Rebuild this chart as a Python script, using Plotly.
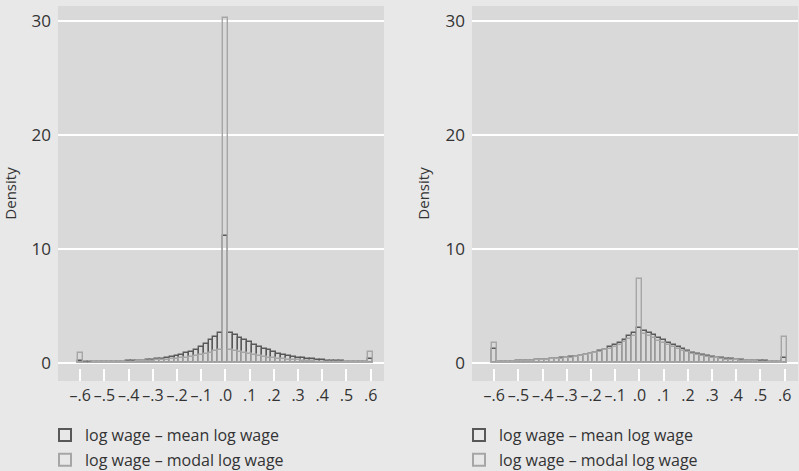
import plotly.graph_objects as go

bins = [round(-0.60 + 0.02 * i, 2) for i in range(61)]

left_mean = [0.15, 0.05, 0.06, 0.06, 0.07, 0.08, 0.09, 0.10, 0.11, 0.12,
             0.14, 0.16, 0.18, 0.20, 0.23, 0.27, 0.31, 0.36, 0.42, 0.50,
             0.60, 0.70, 0.85, 0.98, 1.18, 1.42, 1.70, 2.00, 2.30, 2.60,
             11.1,
             2.62, 2.42, 2.20, 2.00, 1.80, 1.62, 1.42, 1.25, 1.10, 0.95,
             0.83, 0.72, 0.63, 0.55, 0.48, 0.42, 0.37, 0.32, 0.28, 0.24,
             0.21, 0.18, 0.16, 0.14, 0.12, 0.11, 0.10, 0.09, 0.08, 0.35]

left_modal = [0.90, 0.04, 0.04, 0.05, 0.05, 0.06, 0.07, 0.08, 0.09, 0.10,
              0.11, 0.12, 0.14, 0.16, 0.18, 0.20, 0.22, 0.25, 0.28, 0.32,
              0.36, 0.41, 0.47, 0.54, 0.62, 0.70, 0.80, 0.90, 1.02, 1.15,
              30.3,
              1.15, 1.05, 0.95, 0.85, 0.76, 0.68, 0.60, 0.53, 0.47, 0.41,
              0.36, 0.32, 0.28, 0.25, 0.22, 0.19, 0.17, 0.15, 0.13, 0.12,
              0.10, 0.09, 0.08, 0.07, 0.07, 0.06, 0.05, 0.05, 0.05, 0.95]

right_mean = [1.25, 0.10, 0.11, 0.12, 0.13, 0.15, 0.17, 0.19, 0.21, 0.23,
              0.26, 0.29, 0.32, 0.36, 0.40, 0.44, 0.49, 0.54, 0.60, 0.68,
              0.78, 0.90, 1.02, 1.18, 1.36, 1.55, 1.72, 2.03, 2.38, 2.67,
              3.10,
              2.85, 2.62, 2.47, 2.23, 2.00, 1.79, 1.59, 1.41, 1.22, 1.06,
              0.92, 0.82, 0.71, 0.62, 0.54, 0.47, 0.41, 0.36, 0.31, 0.27,
              0.24, 0.21, 0.19, 0.17, 0.15, 0.14, 0.13, 0.12, 0.12, 0.40]

right_modal = [1.75, 0.10, 0.11, 0.12, 0.13, 0.14, 0.16, 0.18, 0.20, 0.22,
               0.25, 0.28, 0.31, 0.35, 0.39, 0.43, 0.48, 0.53, 0.60, 0.68,
               0.76, 0.86, 0.97, 1.10, 1.25, 1.42, 1.62, 1.85, 2.10, 2.40,
               7.35,
               2.55, 2.35, 2.17, 1.97, 1.78, 1.60, 1.42, 1.25, 1.09, 0.95,
               0.82, 0.71, 0.61, 0.53, 0.46, 0.40, 0.35, 0.30, 0.26, 0.23,
               0.20, 0.18, 0.16, 0.14, 0.13, 0.12, 0.11, 0.10, 0.10, 2.30]

x_tickvals = [-0.6, -0.5, -0.4, -0.3, -0.2, -0.1, 0.0, 0.1, 0.2, 0.3, 0.4, 0.5, 0.6]
x_ticktext = ["–.6", "–.5", "–.4", "–.3", "–.2", "–.1", ".0", ".1", ".2", ".3", ".4", ".5", ".6"]
y_tickvals = [0, 10, 20, 30]

series_names = ["log wage – mean log wage", "log wage – modal log wage"]

DARK = "#585858"
LIGHT = "#a6a6a6"
PLOT_BG = "#d9d9da"
PAPER_BG = "#e8e8e9"
FONT = "Open Sans"
TXT = "#333333"

fig = go.Figure()

panels = [
    (left_mean, left_modal, "x", "y", "legend", "L"),
    (right_mean, right_modal, "x2", "y2", "legend2", "R"),
]
for mean_vals, modal_vals, xa, ya, lg, tag in panels:
    for k, (vals, col, name) in enumerate([(mean_vals, DARK, series_names[0]),
                                           (modal_vals, LIGHT, series_names[1])]):
        fig.add_trace(go.Bar(
            x=bins, y=vals, width=0.02, name=name,
            xaxis=xa, yaxis=ya, legend=lg, legendgroup=f"{tag}{k}",
            marker=dict(color="rgba(0,0,0,0)", line=dict(color=col, width=1.4)),
            hoverinfo="skip",
        ))

W, H = 799, 471
xdom1 = [58 / W, 384 / W]
xdom2 = [472 / W, 798 / W]
ydom = [(H - 381) / H, (H - 6) / H]

xaxis_common = dict(
    range=[-0.692, 0.655], tickvals=x_tickvals, ticktext=x_ticktext,
    ticks="inside", ticklen=12, tickwidth=1.5, tickcolor="white",
    showgrid=False, zeroline=False, showline=False,
    tickfont=dict(family=FONT, size=16, color=TXT),
    ticklabelstandoff=3,
)
yaxis_common = dict(
    range=[-1.58, 31.32], tickvals=y_tickvals, ticks="",
    showgrid=True, gridcolor="white", gridwidth=1.5,
    zeroline=False, showline=False,
    tickfont=dict(family=FONT, size=17, color=TXT),
    ticklabelstandoff=6,
    title=dict(text="Density", font=dict(family=FONT, size=15, color=TXT), standoff=12),
)

legend_common = dict(
    orientation="v", bgcolor="rgba(0,0,0,0)", borderwidth=0,
    font=dict(family=FONT, size=16, color=TXT),
    xanchor="left", yanchor="top", tracegroupgap=1, itemsizing="constant",
)

fig.update_layout(
    width=W, height=H,
    margin=dict(l=0, r=0, t=0, b=0, autoexpand=False),
    paper_bgcolor=PAPER_BG, plot_bgcolor=PLOT_BG,
    barmode="overlay", bargap=0,
    showlegend=True,
    xaxis=dict(domain=xdom1, anchor="y", **xaxis_common),
    yaxis=dict(domain=ydom, anchor="x", **yaxis_common),
    xaxis2=dict(domain=xdom2, anchor="y2", **xaxis_common),
    yaxis2=dict(domain=ydom, anchor="x2", **yaxis_common),
    legend=dict(x=45 / W, y=(H - 418) / H, **legend_common),
    legend2=dict(x=459 / W, y=(H - 418) / H, **legend_common),
)

fig.write_html(
    "out.html",
    config={"displayModeBar": False},
    post_script="document.body.style.margin='0';document.body.style.overflow='hidden';",
)
